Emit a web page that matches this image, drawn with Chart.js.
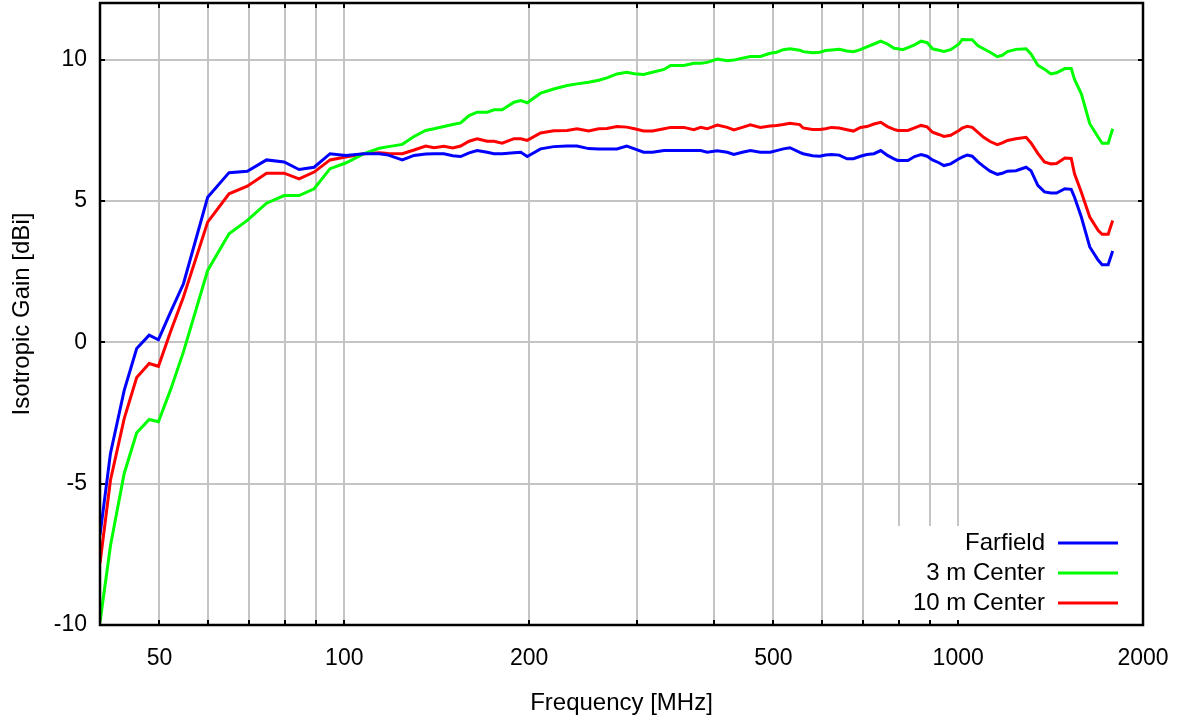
<!DOCTYPE html>
<html>
<head>
<meta charset="utf-8">
<script src="https://cdn.jsdelivr.net/npm/chart.js@4.4.1/dist/chart.umd.min.js"></script>
<style>
  html, body { margin: 0; padding: 0; background: #ffffff; }
  #wrap { width: 1181px; height: 718px; position: relative; }
</style>
</head>
<body>
<div id="wrap"><canvas id="c" width="1181" height="718"></canvas></div>
<script>
// ---- data ----
const freqMHz = [40, 41.6, 43.8, 45.9, 48.1, 49.8, 52.2, 54.7, 59.9, 64.9, 69.5, 74.7, 79.8, 84.4, 89.3, 94.8, 100.5, 107.7, 114, 118, 124.3, 129.9, 135.7, 140, 145.3, 150.2, 154.7, 159.7, 164.6, 170.9, 175.3, 180.8, 189, 193.9, 198.6, 208.8, 219.4, 230.6, 239.4, 250, 259.7, 267.8, 278, 288.5, 297, 307.3, 317.7, 331.8, 340, 357.4, 371, 380.7, 390, 405, 420.6, 431, 445, 458.7, 476, 494, 506, 519, 532, 552, 559, 579, 595, 608, 622, 640, 659, 675, 693, 710, 729, 748, 767, 786, 797, 812, 828, 849, 870, 890, 908, 930, 948, 972, 1003, 1015, 1034, 1054, 1077, 1100, 1127, 1158, 1180, 1203, 1242, 1290, 1314, 1348, 1382, 1416, 1446, 1492, 1528, 1547, 1587, 1638, 1691, 1716, 1755, 1785];

const farfieldGain = [-6.82, -3.93, -1.70, -0.22, 0.25, 0.09, 1.1, 2.07, 5.13, 6.0, 6.05, 6.45, 6.38, 6.11, 6.19, 6.67, 6.61, 6.67, 6.67, 6.62, 6.45, 6.61, 6.66, 6.67, 6.67, 6.6, 6.57, 6.70, 6.78, 6.72, 6.67, 6.67, 6.70, 6.72, 6.57, 6.84, 6.92, 6.94, 6.94, 6.85, 6.84, 6.84, 6.84, 6.94, 6.84, 6.72, 6.72, 6.78, 6.78, 6.78, 6.78, 6.78, 6.72, 6.77, 6.72, 6.64, 6.72, 6.78, 6.72, 6.72, 6.78, 6.84, 6.88, 6.72, 6.67, 6.60, 6.58, 6.62, 6.64, 6.62, 6.49, 6.49, 6.58, 6.64, 6.67, 6.78, 6.61, 6.49, 6.43, 6.43, 6.43, 6.57, 6.64, 6.58, 6.45, 6.35, 6.25, 6.31, 6.49, 6.55, 6.62, 6.58, 6.38, 6.22, 6.05, 5.94, 5.98, 6.05, 6.07, 6.19, 6.07, 5.55, 5.32, 5.28, 5.28, 5.43, 5.41, 5.13, 4.43, 3.37, 2.90, 2.74, 2.74, 3.23];

const center3mGain = [-9.9, -7.2, -4.64, -3.2, -2.73, -2.81, -1.64, -0.34, 2.54, 3.84, 4.31, 4.92, 5.19, 5.19, 5.43, 6.14, 6.34, 6.67, 6.86, 6.92, 7.0, 7.28, 7.49, 7.55, 7.63, 7.70, 7.76, 8.02, 8.14, 8.14, 8.22, 8.22, 8.49, 8.55, 8.47, 8.81, 8.96, 9.08, 9.14, 9.2, 9.27, 9.35, 9.49, 9.55, 9.50, 9.47, 9.55, 9.65, 9.79, 9.79, 9.87, 9.87, 9.90, 10.02, 9.96, 9.98, 10.05, 10.11, 10.11, 10.22, 10.26, 10.35, 10.38, 10.33, 10.28, 10.24, 10.26, 10.32, 10.34, 10.36, 10.30, 10.28, 10.35, 10.45, 10.55, 10.65, 10.55, 10.4, 10.38, 10.35, 10.42, 10.52, 10.65, 10.60, 10.38, 10.33, 10.29, 10.35, 10.55, 10.71, 10.70, 10.70, 10.49, 10.38, 10.26, 10.10, 10.15, 10.28, 10.36, 10.38, 10.20, 9.8, 9.66, 9.49, 9.53, 9.68, 9.68, 9.3, 8.79, 7.73, 7.25, 7.04, 7.04, 7.55];

const center10mGain = [-7.82, -4.88, -2.7, -1.25, -0.75, -0.85, 0.42, 1.6, 4.25, 5.25, 5.52, 5.98, 5.98, 5.78, 6.02, 6.45, 6.55, 6.67, 6.70, 6.68, 6.67, 6.8, 6.94, 6.88, 6.93, 6.87, 6.94, 7.11, 7.2, 7.11, 7.11, 7.04, 7.2, 7.2, 7.14, 7.4, 7.48, 7.49, 7.55, 7.47, 7.55, 7.56, 7.63, 7.61, 7.55, 7.47, 7.47, 7.55, 7.6, 7.6, 7.52, 7.6, 7.55, 7.68, 7.6, 7.51, 7.6, 7.69, 7.6, 7.65, 7.67, 7.7, 7.75, 7.7, 7.58, 7.53, 7.53, 7.55, 7.6, 7.58, 7.52, 7.47, 7.6, 7.63, 7.72, 7.78, 7.63, 7.53, 7.49, 7.49, 7.49, 7.58, 7.67, 7.62, 7.43, 7.35, 7.28, 7.32, 7.49, 7.58, 7.64, 7.6, 7.42, 7.25, 7.10, 6.99, 7.05, 7.14, 7.2, 7.25, 7.05, 6.68, 6.38, 6.31, 6.32, 6.52, 6.50, 5.96, 5.31, 4.43, 3.95, 3.82, 3.82, 4.31];

const seriesLabels = ["Farfield", "3 m Center", "10 m Center"];
const seriesColors = ["#0000ff", "#00ff00", "#ff0000"];

const xGridTicks = [50, 60, 70, 80, 90, 100, 200, 300, 400, 500, 600, 700, 800, 900, 1000, 2000];
const xLabelTicks = [50, 100, 200, 500, 1000, 2000];
const yTicks = [-10, -5, 0, 5, 10];

const xTitle = "Frequency [MHz]";
const yTitle = "Isotropic Gain [dBi]";

// ---- build chart ----
const FONT = "'Liberation Sans', Arial, sans-serif";
const toPts = (ys) => freqMHz.map((f, i) => ({ x: f, y: ys[i] }));
const allSeries = [farfieldGain, center3mGain, center10mGain];

const datasets = allSeries.map((ys, i) => ({
  label: seriesLabels[i],
  data: toPts(ys),
  borderColor: seriesColors[i],
  backgroundColor: seriesColors[i],
  borderWidth: 3,
  pointRadius: 0,
  tension: 0,
  fill: false
}));

const noPad = (s) => { s.paddingLeft = 0; s.paddingRight = 0; s.paddingTop = 0; s.paddingBottom = 0; };

// legend box (white, covers grid) + legend entries + frame + inward ticks
const framePlugin = {
  id: 'framePlugin',
  beforeDatasetsDraw(chart) {
    const { ctx, chartArea: a } = chart;
    ctx.save();
    ctx.fillStyle = '#ffffff';
    ctx.fillRect(885, 526, a.right - 885, a.bottom - 526);
    ctx.restore();
  },
  afterDraw(chart) {
    const { ctx, chartArea: a, scales } = chart;
    ctx.save();
    ctx.strokeStyle = '#000';
    ctx.lineWidth = 2;
    const tl = 5;
    xGridTicks.forEach(v => {
      const px = Math.round(scales.x.getPixelForValue(v));
      ctx.beginPath();
      ctx.moveTo(px, a.bottom); ctx.lineTo(px, a.bottom - tl);
      ctx.moveTo(px, a.top); ctx.lineTo(px, a.top + tl);
      ctx.stroke();
    });
    yTicks.forEach(v => {
      const py = Math.round(scales.y.getPixelForValue(v));
      ctx.beginPath();
      ctx.moveTo(a.left, py); ctx.lineTo(a.left + tl, py);
      ctx.moveTo(a.right, py); ctx.lineTo(a.right - tl, py);
      ctx.stroke();
    });
    ctx.lineWidth = 2.5;
    ctx.strokeRect(a.left, a.top, a.right - a.left, a.bottom - a.top);
    ctx.font = '24px ' + FONT;
    ctx.textAlign = 'right';
    ctx.textBaseline = 'middle';
    const rowY = [543, 573, 603];
    chart.data.datasets.forEach((ds, i) => {
      ctx.fillStyle = '#000';
      ctx.fillText(ds.label, 1045, rowY[i]);
      ctx.strokeStyle = ds.borderColor;
      ctx.lineWidth = 3;
      ctx.beginPath();
      ctx.moveTo(1058, rowY[i]);
      ctx.lineTo(1118, rowY[i]);
      ctx.stroke();
    });
    ctx.restore();
  }
};

new Chart(document.getElementById('c'), {
  type: 'line',
  data: { datasets },
  options: {
    responsive: false,
    animation: false,
    devicePixelRatio: 1,
    layout: { padding: { top: 3, right: 38, left: 0, bottom: 0 } },
    plugins: {
      legend: { display: false },
      tooltip: { enabled: false }
    },
    scales: {
      x: {
        type: 'logarithmic',
        min: 40,
        max: 2000,
        afterBuildTicks: (s) => { s.ticks = xGridTicks.map(v => ({ value: v })); },
        afterFit: (s) => { s.height = 93; noPad(s); },
        border: { display: false },
        grid: { color: '#c4c4c4', lineWidth: 2, drawTicks: false },
        ticks: {
          autoSkip: false,
          maxRotation: 0,
          padding: 20,
          color: '#000',
          font: { family: FONT, size: 23 },
          callback: (v) => xLabelTicks.includes(v) ? String(v) : ''
        },
        title: {
          display: true,
          text: xTitle,
          color: '#000',
          font: { family: FONT, size: 24 },
          padding: { top: 9, bottom: 0 }
        }
      },
      y: {
        type: 'linear',
        min: -10,
        max: 12,
        afterBuildTicks: (s) => { s.ticks = yTicks.map(v => ({ value: v })); },
        afterFit: (s) => { s.width = 100; noPad(s); },
        border: { display: false },
        grid: { color: '#c4c4c4', lineWidth: 2, drawTicks: false },
        ticks: {
          padding: 13,
          color: '#000',
          font: { family: FONT, size: 23 }
        },
        title: {
          display: true,
          text: yTitle,
          color: '#000',
          font: { family: FONT, size: 24 },
          padding: { top: 8, bottom: 0 }
        }
      }
    }
  },
  plugins: [framePlugin]
});
</script>
</body>
</html>
